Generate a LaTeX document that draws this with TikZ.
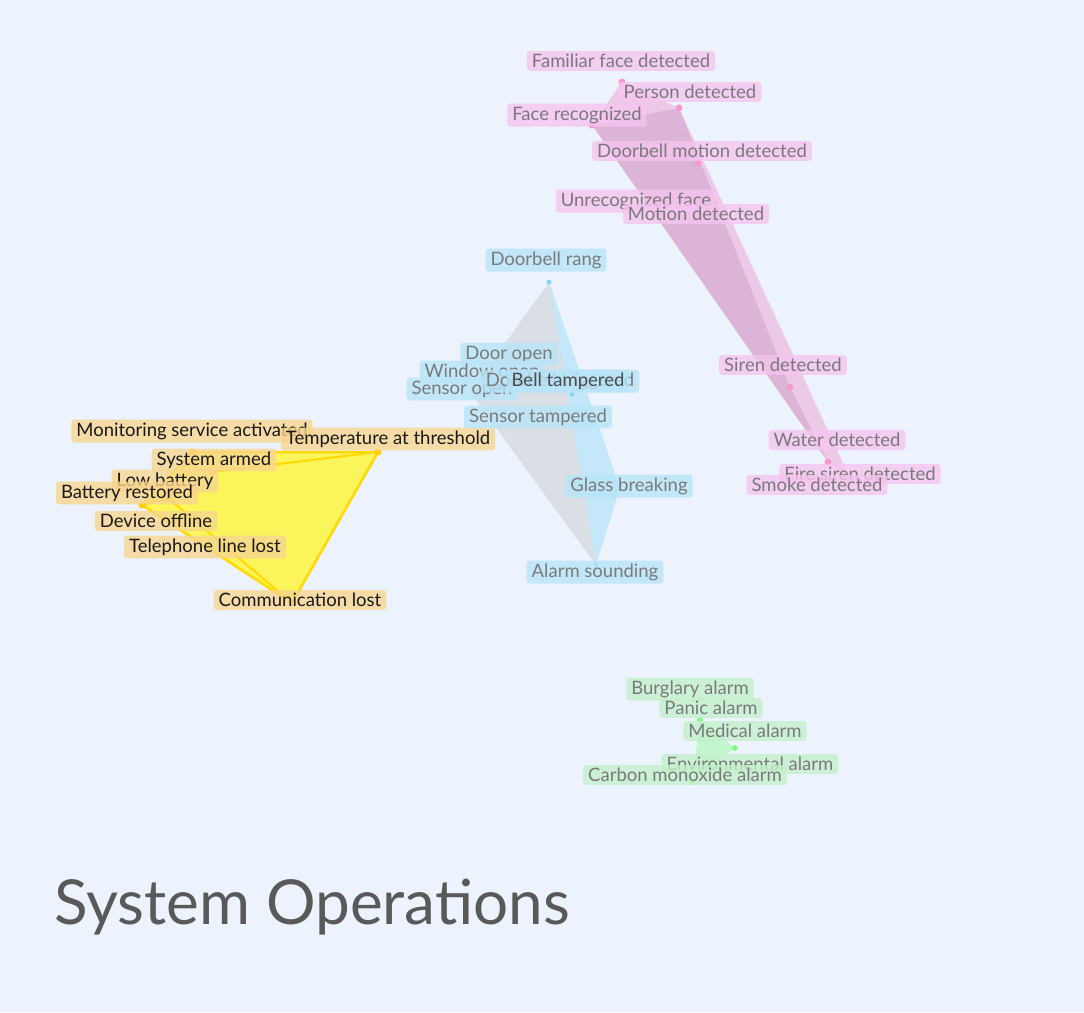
\documentclass[tikz,border=0pt]{standalone}
\usepackage{fontspec}
\setmainfont{Lato}
\definecolor{bg}{HTML}{ECF3FC}
\definecolor{ylf}{HTML}{F8D590}
\definecolor{blf}{HTML}{B8E4F8}
\definecolor{plf}{HTML}{F6C4F0}
\definecolor{glf}{HTML}{C4F0CC}
\definecolor{txg}{HTML}{7A7A7A}
\begin{document}
\begin{tikzpicture}[x=1pt,y=-1pt,
 lab/.style={rounded corners=3pt,inner xsep=5pt,inner ysep=3pt,font=\fontsize{18.5}{20}\selectfont,fill opacity=0.8,text opacity=1},
 ylab/.style={lab,fill=ylf,text=black!90},
 blab/.style={lab,fill=blf,text=txg},
 plab/.style={lab,fill=plf,text=txg},
 glab/.style={lab,fill=glf,text=txg}]
\fill[bg] (0,0) rectangle (1084,1012);
\useasboundingbox (0,0) rectangle (1084,1012);
% pink hull
\coordinate (p1) at (592,125);\coordinate (p2) at (622,82);\coordinate (p3) at (679,108);
\coordinate (p4) at (850,478);\coordinate (p5) at (828,462);\coordinate (p6) at (790,387);\coordinate (p7) at (698,163);
\fill[magenta!70,opacity=0.25] (p1)--(p2)--(p3)--(p4)--(p5)--cycle;
\fill[violet!50!gray,opacity=0.15] (p1)--(p3)--(p6)--(p5)--cycle;
\foreach \p in {p1,p2,p3,p5,p6,p7} \fill[magenta!40] (\p) circle (3.5pt);
% blue hull
\coordinate (b1) at (549,282);\coordinate (b2) at (620,488);\coordinate (b3) at (596,565);\coordinate (b4) at (470,392);
\coordinate (b5) at (536,420);\coordinate (b6) at (572,394);
\fill[cyan!70,opacity=0.25] (b1)--(b2)--(b3)--cycle;
\fill[gray!70,opacity=0.25] (b1)--(b3)--(b4)--cycle;
\foreach \p in {b1,b3,b5,b6} \fill[cyan!50] (\p) circle (2.5pt);
% green
\coordinate (g1) at (700,720);\coordinate (g2) at (735,748);\coordinate (g3) at (692,782);
\fill[green!60,opacity=0.3] (g1)--(g2)--(g3)--cycle;
\foreach \p in {g1,g2,g3} \fill[green!50] (\p) circle (3pt);
% yellow hull
\coordinate (y1) at (192,452);\coordinate (y2) at (378,452);\coordinate (y3) at (292,603);
\coordinate (y4) at (142,505);\coordinate (y5) at (212,472);\coordinate (y6) at (168,498);
\fill[yellow!80,opacity=0.8] (y1)--(y2)--(y3)--(y4)--cycle;
\draw[orange!30!yellow,line width=2.5pt,line join=round] (y1)--(y2)--(y3)--(y4)--cycle;
\draw[orange!30!yellow,line width=2pt] (y5)--(y2) (y6)--(y3) (y4)--(y6) (y1)--(y6);
\foreach \p in {y1,y2,y3,y4,y5,y6} \fill[orange!40!yellow] (\p) circle (3.5pt);
% yellow labels
\node[ylab] (l1) at (192,431) {Monitoring service activated};
\node[ylab] (l2) at (388,439) {Temperature at threshold};
\node[ylab] (l3) at (214,460) {System armed};
\node[ylab] (l4) at (165,481) {Low battery};
\node[ylab] (l5) at (127,493) {Battery restored};
\node[ylab] (l6) at (156,521) {Device offline};
\node[ylab] (l7) at (205,547) {Telephone line lost};
\node[ylab] (l8) at (300,600) {Communication lost};
% blue labels
\node[blab] (m1) at (546,260) {Doorbell rang};
\node[blab] (m2) at (509,354) {Door open};
\node[blab] (m3) at (482,372) {Window open};
\node[blab] (m4) at (462,389) {Sensor open};
\node[blab] (m5) at (560,381) {Doorbell triggered};
\node[blab,text=black!70] (m6) at (568,381) {Bell tampered};
\node[blab] (m7) at (538,417) {Sensor tampered};
\node[blab] (m8) at (629,486) {Glass breaking};
\node[blab] (m9) at (595,572) {Alarm sounding};
% pink labels
\node[plab] (n1) at (621,61) {Familiar face detected};
\node[plab] (n2) at (690,92) {Person detected};
\node[plab] (n3) at (577,115) {Face recognized};
\node[plab] (n4) at (702,151) {Doorbell motion detected};
\node[plab] (n5) at (636,201) {Unrecognized face};
\node[plab] (n6) at (696,214) {Motion detected};
\node[plab] (n7) at (783,365) {Siren detected};
\node[plab] (n8) at (837,440) {Water detected};
\node[plab] (n9) at (860,474) {Fire siren detected};
\node[plab] (n10) at (817,485) {Smoke detected};
% green labels
\node[glab] (o1) at (690,689) {Burglary alarm};
\node[glab] (o2) at (711,708) {Panic alarm};
\node[glab] (o3) at (745,731) {Medical alarm};
\node[glab] (o4) at (750,764) {Environmental alarm};
\node[glab] (o5) at (685,775) {Carbon monoxide alarm};
\node[anchor=base west,inner sep=0pt,text=black!65,font=\fontsize{62}{66}\selectfont] (title) at (54,924) {System Operations};
\end{tikzpicture}
\end{document}
